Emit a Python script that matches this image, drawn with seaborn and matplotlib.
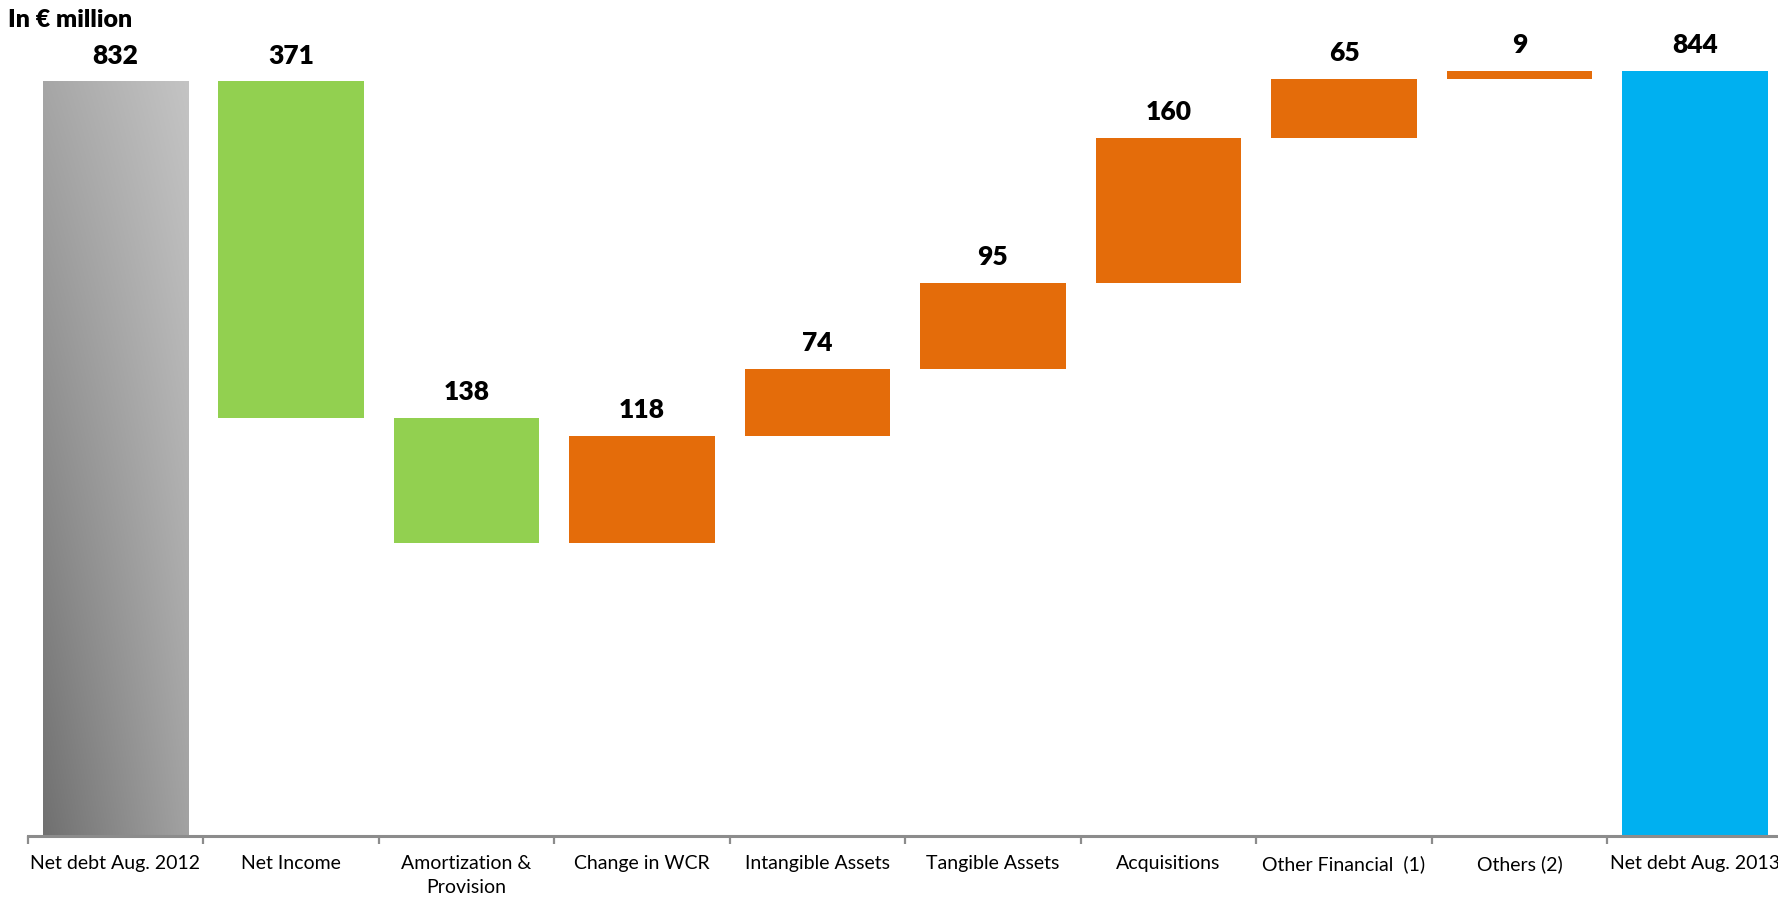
import numpy as np
import pandas as pd
import matplotlib
matplotlib.use("Agg")
import matplotlib.pyplot as plt
import seaborn as sns

# Net debt bridge, in € million
categories = [
    "Net debt Aug. 2012", "Net Income", "Amortization &\nProvision",
    "Change in WCR", "Intangible Assets", "Tangible Assets",
    "Acquisitions", "Other Financial  (1)", "Others (2)", "Net debt Aug. 2013",
]
changes = [832, -371, -138, 118, 74, 95, 160, 65, 9, 844]
is_total = [True, False, False, False, False, False, False, False, False, True]

GREEN = "#92D050"
ORANGE = "#E46C0A"
BLUE = "#00B0F0"
GREY = "#A6A6A6"

# Build floating segments for the waterfall
bottoms, heights, colors = [], [], []
running = 0
for i, (v, tot) in enumerate(zip(changes, is_total)):
    if tot:
        bottoms.append(0)
        heights.append(v)
        running = v
        colors.append(GREY if i == 0 else BLUE)
    else:
        low = min(running, running + v)
        bottoms.append(low)
        heights.append(abs(v))
        running += v
        colors.append(GREEN if v < 0 else ORANGE)

df = pd.DataFrame({"category": categories, "height": heights, "bottom": bottoms})

sns.set_theme(style="white")
plt.rcParams["font.family"] = ["Lato", "DejaVu Sans"]

W, H = 1778, 901
fig = plt.figure(figsize=(W / 100, H / 100), dpi=100)
ax_left, ax_right_px = 27.75, 1782.75
ax_bottom_px = 835.5
ax = fig.add_axes([ax_left / W, (H - ax_bottom_px) / H,
                   (ax_right_px - ax_left) / W, ax_bottom_px / H])

sns.barplot(data=df, x="category", y="height", bottom=df["bottom"].values,
            order=categories, width=0.83, errorbar=None, ax=ax,
            color=GREY, linewidth=0, edgecolor="none")

bars = ax.patches[:len(categories)]
for p, c in zip(bars, colors):
    p.set_facecolor(c)
    p.set_edgecolor("none")

ymax = ax_bottom_px / (754.0 / 832.0)
ax.set_ylim(0, ymax)
ax.set_xlim(-0.5, len(categories) - 0.5)

# Diagonal grey gradient on the opening bar
p0 = bars[0]
x0, y0 = p0.get_x(), p0.get_y()
w0, h0 = p0.get_width(), p0.get_height()
u = np.linspace(0, 1, 200)[None, :]
v = np.linspace(0, 1, 400)[:, None]
shade = (112 + 50 * u + 54 * v - 20 * u * v) / 255.0
grad = np.dstack([shade, shade, shade])
im = ax.imshow(grad, extent=[x0, x0 + w0, y0, y0 + h0], origin="lower",
               aspect="auto", zorder=p0.get_zorder(), interpolation="bilinear")
im.set_clip_path(p0)
p0.set_facecolor("none")
ax.set_xlim(-0.5, len(categories) - 0.5)
ax.set_ylim(0, ymax)

# Value labels above each bar
for p, v in zip(bars, changes):
    ax.annotate(f"{abs(v)}", (p.get_x() + p.get_width() / 2, p.get_y() + p.get_height()),
                xytext=(0, 10), textcoords="offset points", ha="center", va="bottom",
                fontsize=19, fontweight="heavy", color="#000000")

# Axis styling
for s in ["top", "right", "left"]:
    ax.spines[s].set_visible(False)
ax.spines["bottom"].set_color("#8C8C8C")
ax.spines["bottom"].set_linewidth(2.2)
ax.set_yticks([])
ax.set_xlabel("")
ax.set_ylabel("")
ax.set_xticks(range(len(categories)))
ax.set_xticklabels(categories, fontsize=14, color="#000000", linespacing=1.5)
ax.tick_params(axis="x", which="major", length=0, pad=14)
ax.set_xticks(np.arange(-0.5, len(categories), 1.0), minor=True)
ax.tick_params(axis="x", which="minor", length=6, width=1.6, color="#8C8C8C",
               direction="out", bottom=True)

fig.text(8 / W, 1 - 9 / H, "In € million", fontsize=18, fontweight="heavy",
         ha="left", va="top", color="#000000")

fig.savefig("out.png", dpi=100)
